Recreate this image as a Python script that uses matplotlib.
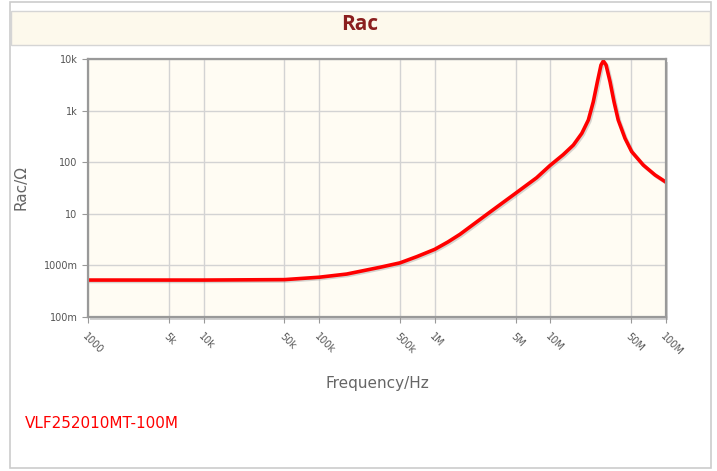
import numpy as np
import matplotlib
matplotlib.use('Agg')
import matplotlib.pyplot as plt
from matplotlib.patches import Rectangle
import matplotlib.patheffects as pe

# 주파수 (Hz) / Rac (Ohm) - 그림에서 읽은 값
freq = [1000, 10e3, 50e3, 100e3, 173e3, 336e3, 500e3, 700e3, 1e6, 1.3e6, 1.65e6, 3.0e6, 5.0e6, 7.6e6,
        9.9e6, 12.9e6, 15.8e6, 18.7e6, 21.3e6, 23.5e6, 25.5e6, 27.4e6, 28.7e6,
        30.3e6, 32.8e6, 35.5e6, 38.6e6, 44.2e6, 50.5e6, 63.6e6, 80.4e6, 100e6]
rac = [0.52, 0.52, 0.53, 0.59, 0.68, 0.92, 1.12, 1.48, 2.05, 2.85, 4.0, 10.8, 25.0, 50,
       86, 140, 215, 363, 658, 1486, 3630, 7650, 9140,
       7650, 3630, 1486, 658, 290, 160, 88, 56.5, 41]

xticks = [1e3, 5e3, 1e4, 5e4, 1e5, 5e5, 1e6, 5e6, 1e7, 5e7, 1e8]
xlabels = ['1000', '5k', '10k', '50k', '100k', '500k', '1M', '5M', '10M', '50M', '100M']
yticks = [0.1, 1, 10, 100, 1e3, 1e4]
ylabels = ['100m', '1000m', '10', '100', '1k', '10k']

W, H = 717, 471
fig = plt.figure(figsize=(W/100, H/100), dpi=100)
fig.patch.set_facecolor('white')

def fx(px):
    return px / W

def fy(py):
    return 1 - py / H

# 바깥 박스 + 헤더
fig.patches.append(Rectangle((fx(10), fy(468)), fx(701), 466/H, transform=fig.transFigure,
                             facecolor='white', edgecolor='#cccccc', lw=1.2, zorder=-10))
fig.patches.append(Rectangle((fx(11), fy(45)), fx(699), 34/H, transform=fig.transFigure,
                             facecolor='#fdf9ec', edgecolor='#d5d5d5', lw=1, zorder=-9))
fig.text(fx(360), fy(25), 'Rac', color='#8b1f1f', fontsize=15, fontweight='bold',
         ha='center', va='center', family='Open Sans')
# plot 테두리 그림자
fig.patches.append(Rectangle((fx(90), fy(320)), fx(578), 258/H, transform=fig.transFigure,
                             facecolor='#d0d0d0', edgecolor='none', zorder=4))

# plot 영역
ax = fig.add_axes([fx(88), fy(317), fx(578), 258/H], zorder=5)
ax.set_facecolor('#fffcf3')
ax.plot(freq, rac, color='#ff0000', lw=2.6, solid_capstyle='round', solid_joinstyle='round',
        path_effects=[pe.SimpleLineShadow(offset=(1, -1), shadow_color='#999999', alpha=0.4), pe.Normal()])
ax.set_xscale('log')
ax.set_yscale('log')
ax.set_xlim(1e3, 1e8)
ax.set_ylim(0.1, 1e4)
ax.set_xticks(xticks)
ax.set_xticklabels(xlabels, rotation=-45, ha='left', va='top', rotation_mode='anchor',
                   fontsize=7, color='#555555')
ax.set_yticks(yticks)
ax.set_yticklabels(ylabels, fontsize=7, color='#555555')
ax.minorticks_off()
ax.tick_params(axis='both', length=4, color='#999999', width=0.8)
ax.tick_params(axis='x', pad=6)
ax.grid(True, color='#d3d3d3', lw=1)
ax.set_axisbelow(True)
for s in ax.spines.values():
    s.set_color('#999999')
    s.set_linewidth(1.6)

ax.set_xlabel('Frequency/Hz', fontsize=11, color='#666666', labelpad=14)
ax.set_ylabel('Rac/Ω', fontsize=11, color='#666666', labelpad=11)

fig.text(fx(25), fy(423), 'VLF252010MT-100M', color='#ff0000', fontsize=11,
         ha='left', va='center')

fig.savefig('out.png', dpi=100)
